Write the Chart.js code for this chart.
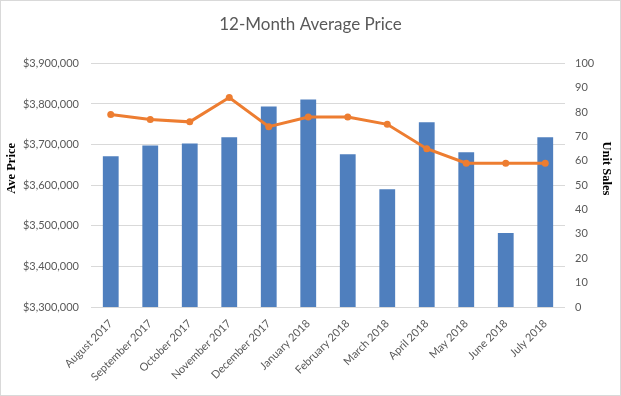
<!DOCTYPE html>
<html>
<head>
<meta charset="utf-8">
<script src="https://cdn.jsdelivr.net/npm/chart.js@4"></script>
<style>
  html, body { margin: 0; padding: 0; background: #fff; }
  #wrap { width: 621px; height: 396px; box-sizing: border-box; border: 1px solid #d9d9d9; }
  #chart { display: block; }
</style>
</head>
<body>
<div id="wrap"><canvas id="chart" width="619" height="394"></canvas></div>
<script>
var months = ['August 2017', 'September 2017', 'October 2017', 'November 2017', 'December 2017',
  'January 2018', 'February 2018', 'March 2018', 'April 2018', 'May 2018', 'June 2018', 'July 2018'];
var avePrice = [3671000, 3698000, 3703000, 3718000, 3794000, 3811000,
  3676000, 3590000, 3755000, 3681000, 3482000, 3718000];
var unitSales = [79, 77, 76, 86, 74, 78, 78, 75, 65, 59, 59, 59];

var colors = {
  bar: '#4f7fbe',
  line: '#ed7d31',
  text: '#595959',
  grid: '#d9d9d9'
};

var tickFont = { family: 'Lato, "Open Sans", sans-serif', size: 11 };

function money(v) {
  return '$' + Math.round(v).toLocaleString('en-US');
}

// Excel puts the axis titles a little above the plot's middle, so draw them by hand
var axisTitles = {
  id: 'axisTitles',
  afterDraw: function (chart) {
    var ctx = chart.ctx;
    var midY = chart.chartArea.top + 105;
    ctx.save();
    ctx.font = 'bold 12.5px "Liberation Serif", "DejaVu Serif", serif';
    ctx.fillStyle = '#000';
    ctx.textAlign = 'center';
    ctx.textBaseline = 'middle';

    ctx.save();
    ctx.translate(11, midY);
    ctx.rotate(-Math.PI / 2);
    ctx.fillText('Ave Price', 0, 0);
    ctx.restore();

    ctx.save();
    ctx.translate(chart.width - 14, midY);
    ctx.rotate(Math.PI / 2);
    ctx.fillText('Unit Sales', 0, 0);
    ctx.restore();

    ctx.restore();
  }
};

new Chart(document.getElementById('chart'), {
  data: {
    labels: months,
    datasets: [{
      type: 'line',
      label: 'Unit Sales',
      data: unitSales,
      yAxisID: 'sales',
      borderColor: colors.line,
      backgroundColor: colors.line,
      borderWidth: 3,
      pointRadius: 3.5,
      pointBackgroundColor: colors.line,
      pointBorderWidth: 0,
      tension: 0,
      order: 0
    }, {
      type: 'bar',
      label: 'Ave Price',
      data: avePrice,
      yAxisID: 'price',
      backgroundColor: colors.bar,
      barPercentage: 0.4,
      categoryPercentage: 1,
      order: 1
    }]
  },
  options: {
    responsive: false,
    animation: false,
    layout: { padding: 0 },
    plugins: {
      legend: { display: false },
      tooltip: { enabled: false },
      title: {
        display: true,
        text: '12-Month Average Price',
        color: colors.text,
        font: { family: 'Lato, "Open Sans", sans-serif', size: 17, weight: 'normal' },
        padding: { top: 13, bottom: 29 }
      }
    },
    scales: {
      x: {
        grid: { display: false },
        border: { display: false },
        ticks: { color: colors.text, font: tickFont, minRotation: 45, maxRotation: 45, padding: 2 },
        afterFit: function (scale) { scale.height = 88; }
      },
      price: {
        type: 'linear',
        position: 'left',
        min: 3300000,
        max: 3900000,
        ticks: { stepSize: 100000, color: colors.text, font: tickFont, padding: 12, callback: money },
        grid: { color: colors.grid, drawTicks: false },
        border: { display: false },
        afterFit: function (scale) { scale.width = 90; }
      },
      sales: {
        type: 'linear',
        position: 'right',
        min: 0,
        max: 100,
        ticks: { stepSize: 10, color: colors.text, font: tickFont, padding: 10 },
        grid: { display: false, drawTicks: false },
        border: { display: false },
        afterFit: function (scale) { scale.width = 55; }
      }
    }
  },
  plugins: [axisTitles]
});
</script>
</body>
</html>
